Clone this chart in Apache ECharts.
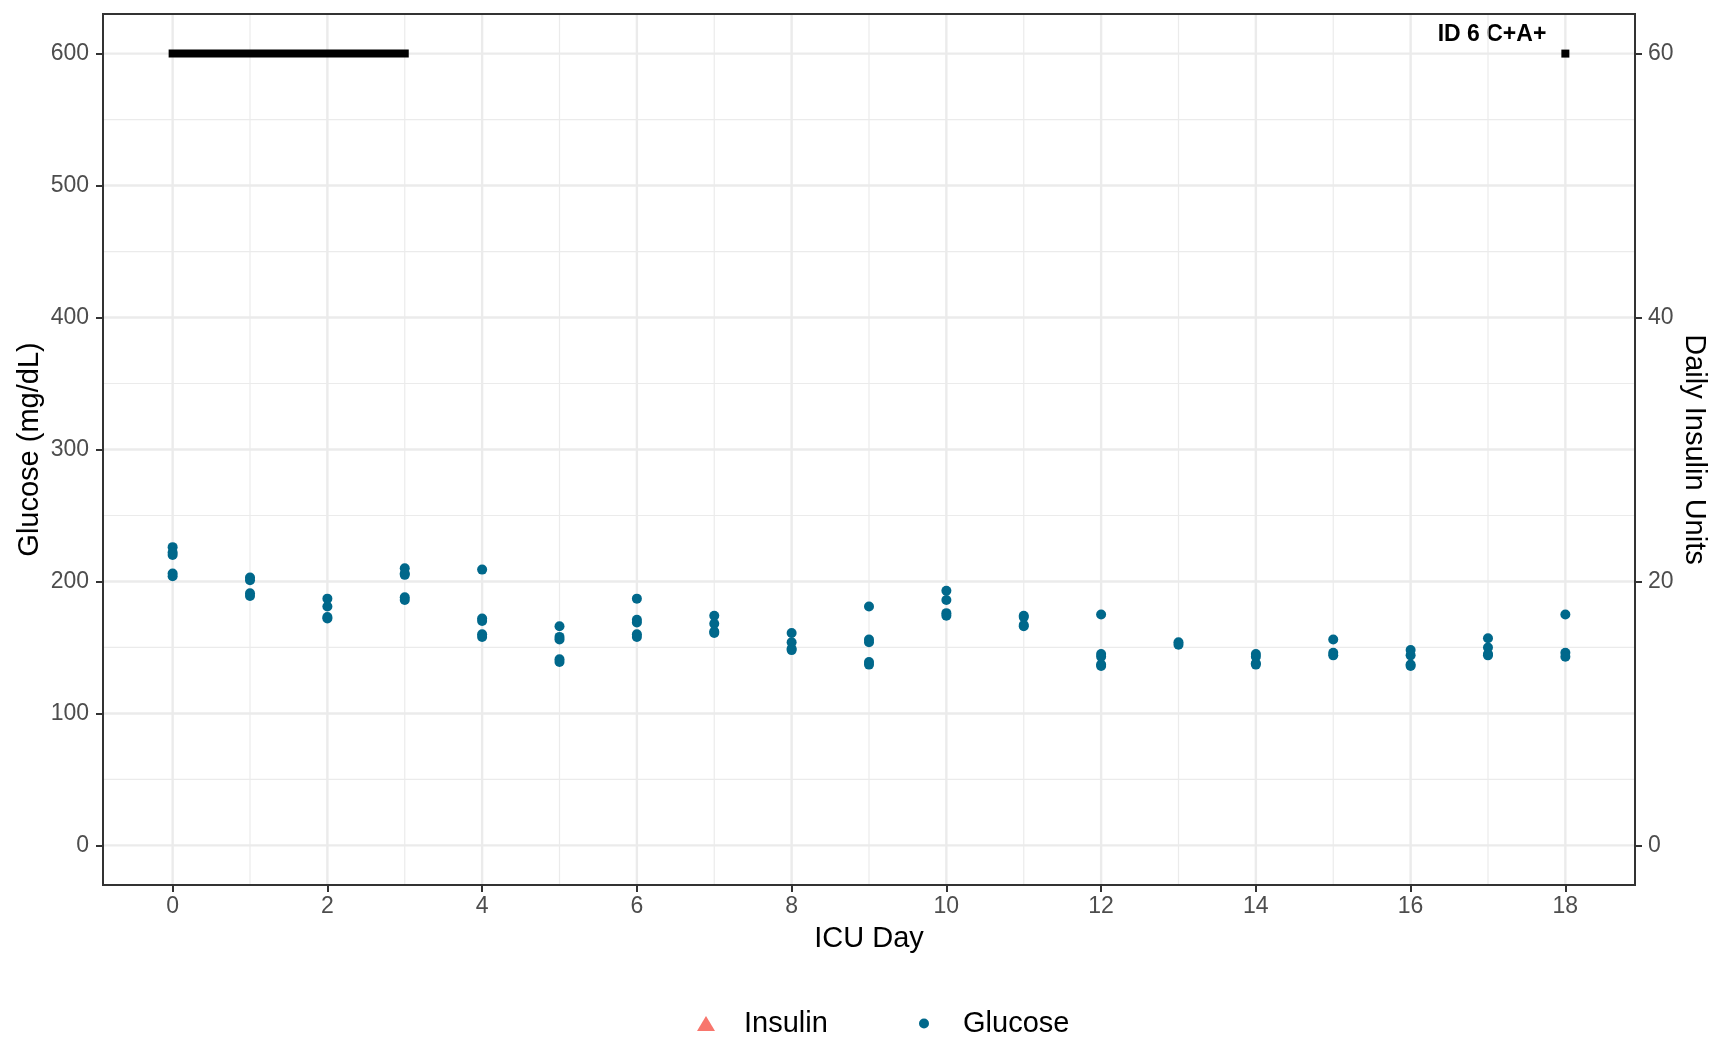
<!DOCTYPE html>
<html><head><meta charset="utf-8">
<script src="https://cdn.jsdelivr.net/npm/echarts@6/dist/echarts.min.js"></script>
<style>html,body{margin:0;padding:0;background:#fff}#c{width:1723px;height:1040px}</style>
</head><body><div id="c"></div>
<script>
// ---- data ----
const days = [0,1,2,3,4,5,6,7,8,9,10,11,12,13,14,15,16,17,18];
const glucoseByDay = [
  [226,222,220,206,204],
  [203,201,191,189],
  [187,181,173,172],
  [210,206,205,188,186],
  [209,172,170,160,158],
  [166,158,156,141,139],
  [187,171,169,160,158],
  [174,168,162,161],
  [161,154,149,148],
  [181,156,154,139,137],
  [193,186,176,174],
  [174,173,167,166],
  [175,145,143,137,136],
  [154,152],
  [145,143,138,137],
  [156,146,144],
  [148,144,137,136],
  [157,150,145,144],
  [175,146,143]
];
const insulinPoints = [];            // no insulin triangles drawn in the panel
const segmentDays = [0, 3];
const segmentLevel = 600;
const squareDays = [18];
const annotationText = 'ID 6 C+A+';
const xTicks = [0,2,4,6,8,10,12,14,16,18];
const xMinorTicks = [1,3,5,7,9,11,13,15,17];
const yTicks = [0,100,200,300,400,500,600];
const yMinorTicks = [50,150,250,350,450,550];
const y2Ticks = [0,20,40,60];

// ---- build ----
const glucoseData = [];
days.forEach((d, i) => glucoseByDay[i].forEach(v => glucoseData.push([d, v])));
const gridData = [];
xTicks.forEach(v => gridData.push([v, 0, 0, 1]));
xMinorTicks.forEach(v => gridData.push([v, 0, 0, 0]));
yTicks.forEach(v => gridData.push([0, v, 1, 1]));
yMinorTicks.forEach(v => gridData.push([0, v, 1, 0]));

const FONT = '"Liberation Sans", Arial, Helvetica, sans-serif';
const chart = echarts.init(document.getElementById('c'), null, {renderer: 'canvas'});
const tickStyle = {show: true, length: 7, lineStyle: {color: '#333333', width: 2}};
const labelStyle = {color: '#4D4D4D', fontSize: 23, fontFamily: FONT};

chart.setOption({
  animation: false,
  backgroundColor: '#ffffff',
  grid: {left: 103, right: 88, top: 14, bottom: 155, show: true, borderColor: '#333333', borderWidth: 2, backgroundColor: 'transparent'},
  xAxis: {
    type: 'value', min: -0.9, max: 18.9,
    name: 'ICU Day', nameLocation: 'middle', nameGap: 39, nameMoveOverlap: false,
    nameTextStyle: {color: '#000', fontSize: 29, fontFamily: FONT},
    axisLine: {show: false, onZero: false},
    axisTick: Object.assign({customValues: xTicks}, tickStyle),
    axisLabel: Object.assign({customValues: xTicks, margin: 10}, labelStyle),
    splitLine: {show: false}
  },
  yAxis: [{
    type: 'value', min: -30, max: 630, position: 'left',
    name: 'Glucose (mg/dL)', nameLocation: 'middle', nameGap: 59, nameMoveOverlap: false,
    nameTextStyle: {color: '#000', fontSize: 29, fontFamily: FONT},
    axisLine: {show: false, onZero: false},
    axisTick: Object.assign({customValues: yTicks}, tickStyle),
    axisLabel: Object.assign({customValues: yTicks, margin: 14}, labelStyle),
    splitLine: {show: false}
  }, {
    type: 'value', min: -3, max: 63, position: 'right',
    name: 'Daily Insulin Units', nameLocation: 'middle', nameGap: 44, nameRotate: -90, nameMoveOverlap: false,
    nameTextStyle: {color: '#000', fontSize: 29, fontFamily: FONT},
    axisLine: {show: false, onZero: false},
    axisTick: Object.assign({customValues: y2Ticks}, tickStyle),
    axisLabel: Object.assign({customValues: y2Ticks, margin: 13}, labelStyle),
    splitLine: {show: false}
  }],
  legend: [{
    data: [{name: 'Insulin', icon: 'triangle'}],
    left: 692, top: 1004, itemWidth: 18, itemHeight: 15,
    textStyle: {color: '#000', fontSize: 29, fontFamily: FONT, padding: [0, 0, 0, 24]},
    selectedMode: false
  }, {
    data: [{name: 'Glucose', icon: 'circle'}],
    left: 914, top: 1004, itemWidth: 10, itemHeight: 10,
    textStyle: {color: '#000', fontSize: 29, fontFamily: FONT, padding: [0, 0, 0, 29]},
    selectedMode: false
  }],
  graphic: [{
    type: 'text', x: 1492, y: 35,
    style: {text: annotationText, fill: '#000', font: 'bold 23px ' + FONT, textAlign: 'center', textVerticalAlign: 'middle'}
  }],
  series: [{
    name: 'grid', type: 'custom', z: 1, silent: true,
    encode: {x: 0, y: 1},
    data: gridData,
    renderItem: function (params, api) {
      const cs = params.coordSys;
      const kind = api.value(2), major = api.value(3);
      let shape;
      if (kind === 0) {
        const x = api.coord([api.value(0), 0])[0];
        shape = {x1: x, y1: cs.y + 1, x2: x, y2: cs.y + cs.height - 1};
      } else {
        const y = api.coord([0, api.value(1)])[1];
        shape = {x1: cs.x + 1, y1: y, x2: cs.x + cs.width - 1, y2: y};
      }
      return {type: 'line', shape: shape, style: {stroke: '#EBEBEB', lineWidth: major ? 2.4 : 1.2}};
    }
  }, {
    name: 'Insulin', type: 'scatter', yAxisIndex: 1, symbol: 'triangle', symbolSize: 14,
    itemStyle: {color: '#F8766D', opacity: 1}, data: insulinPoints, z: 3
  }, {
    name: 'Glucose', type: 'scatter', symbol: 'circle', symbolSize: 10,
    itemStyle: {color: '#00688B', opacity: 1}, data: glucoseData, z: 3,
    emphasis: {disabled: true}
  }, {
    name: 'segment', type: 'line', symbol: 'none', z: 4,
    lineStyle: {color: '#000', width: 8, cap: 'square'},
    data: segmentDays.map(d => [d, segmentLevel]), silent: true
  }, {
    name: 'square', type: 'scatter', symbol: 'rect', symbolSize: 8, z: 4,
    itemStyle: {color: '#000', opacity: 1}, data: squareDays.map(d => [d, segmentLevel]), silent: true
  }]
});
</script></body></html>
